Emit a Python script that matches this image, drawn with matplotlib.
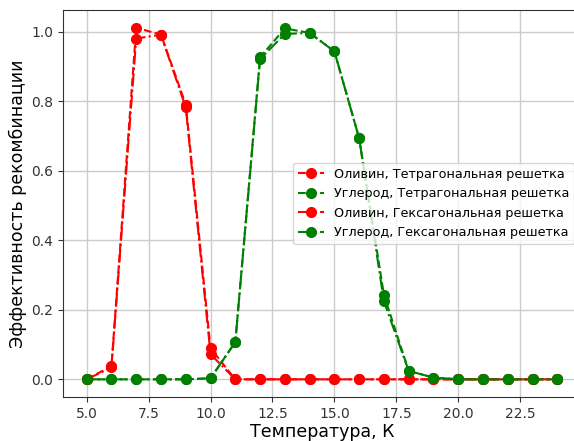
import matplotlib
matplotlib.use("Agg")
import matplotlib.pyplot as plt

# ── Data ──────────────────────────────────────────────────────────────────────
temps = list(range(5, 25))

olivine_tetra = [0, 0.038, 1.011, 0.991, 0.790, 0.089, 0, 0, 0, 0,
                 0, 0, 0, 0, 0, 0, 0, 0, 0, 0]
carbon_tetra = [0, 0, 0, 0, 0, 0.003, 0.107, 0.926, 1.009, 0.996,
                0.943, 0.693, 0.242, 0.024, 0.005, 0, 0, 0, 0, 0]
olivine_hexa = [0, 0.034, 0.980, 0.991, 0.782, 0.072, 0, 0, 0, 0,
                0, 0, 0, 0, 0, 0, 0, 0, 0, 0]
carbon_hexa = [0, 0, 0, 0, 0, 0.003, 0.107, 0.921, 0.993, 0.996,
               0.943, 0.693, 0.224, 0.024, 0.005, 0, 0, 0, 0, 0]

labels = [
    "Оливин, Тетрагональная решетка",
    "Углерод, Тетрагональная решетка",
    "Оливин, Гексагональная решетка",
    "Углерод, Гексагональная решетка",
]

# ── Plot ──────────────────────────────────────────────────────────────────────
fig = plt.figure(figsize=(5.74, 4.41), dpi=100)
ax = fig.add_axes([0.110, 0.100, 0.902, 0.877])

ax.plot(temps, olivine_tetra, "--o", color="red", markersize=7, label=labels[0])
ax.plot(temps, carbon_tetra, "--o", color="green", markersize=7, label=labels[1])
ax.plot(temps, olivine_hexa, "-.o", color="red", markersize=7, label=labels[2])
ax.plot(temps, carbon_hexa, "-.o", color="green", markersize=7, label=labels[3])

ax.grid(True, color="#cccccc", linewidth=1)
ax.set_axisbelow(True)
for sp in ax.spines.values():
    sp.set_color("#333333")
ax.tick_params(labelsize=10, colors="#333333")
ax.set_xlabel("Температура, К", fontsize=12.5, labelpad=2)
ax.set_ylabel("Эффективность рекомбинации", fontsize=12.5, labelpad=3)
ax.legend(loc="center right", fontsize=9.2)

fig.savefig("out.png", dpi=100)
